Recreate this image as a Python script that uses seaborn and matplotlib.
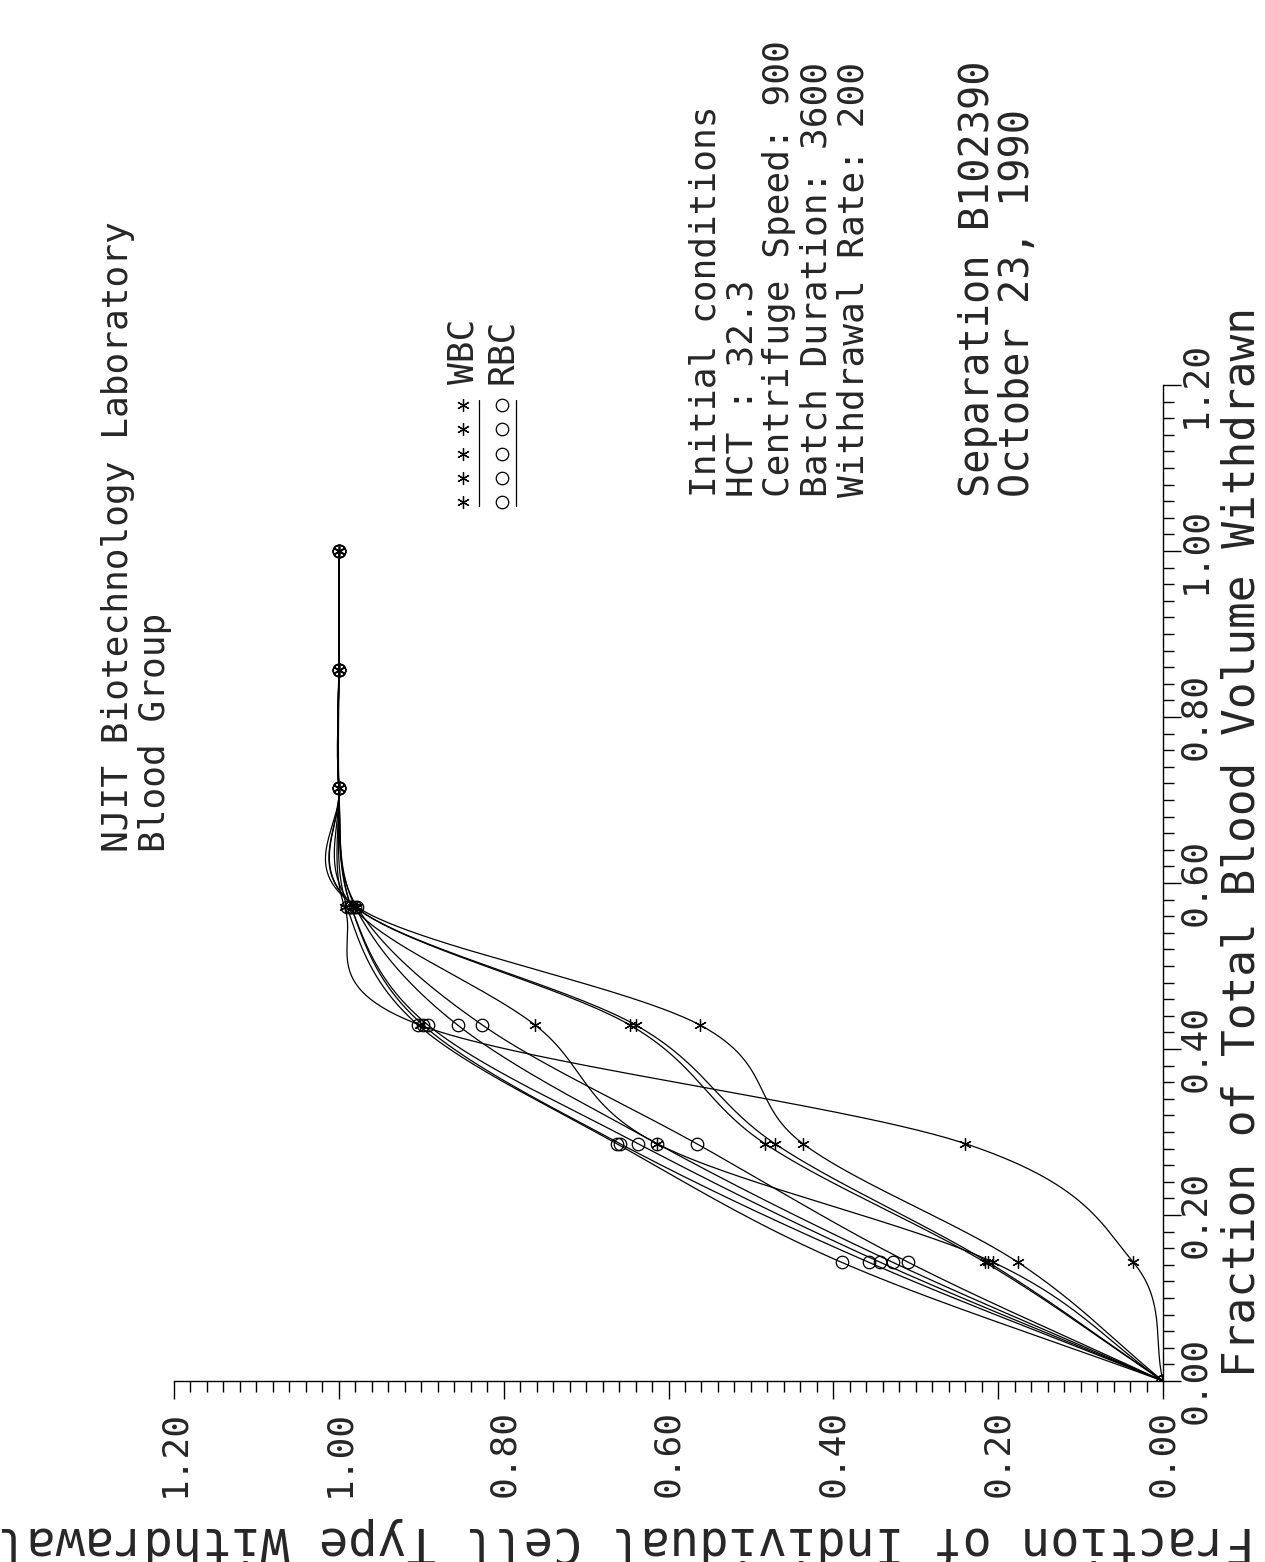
import numpy as np
import pandas as pd
import matplotlib
matplotlib.use("Agg")
import matplotlib.pyplot as plt
from matplotlib.lines import Line2D
from matplotlib.ticker import MultipleLocator, FormatStrFormatter
import seaborn as sns

sns.set_theme(style="white")
plt.rcParams['font.family'] = ['DejaVu Sans Mono', 'DejaVu Sans']

# Fraction of total blood volume withdrawn at each sampling point
volume = [0.0, 0.143, 0.286, 0.429, 0.571, 0.714, 0.857, 1.0]

# Red blood cell fractions withdrawn (five runs)
rbc_1 = [0.0, 0.390, 0.663, 0.904, 0.990, 1.0, 1.0, 1.0]
rbc_2 = [0.0, 0.357, 0.659, 0.898, 0.985, 1.0, 1.0, 1.0]
rbc_3 = [0.0, 0.343, 0.637, 0.892, 0.985, 1.0, 1.0, 1.0]
rbc_4 = [0.0, 0.328, 0.614, 0.856, 0.980, 1.0, 1.0, 1.0]
rbc_5 = [0.0, 0.309, 0.566, 0.826, 0.978, 1.0, 1.0, 1.0]

# White blood cell fractions withdrawn (five runs)
wbc_1 = [0.0, 0.216, 0.483, 0.647, 0.980, 1.0, 1.0, 1.0]
wbc_2 = [0.0, 0.212, 0.471, 0.640, 0.980, 1.0, 1.0, 1.0]
wbc_3 = [0.0, 0.176, 0.437, 0.562, 0.978, 1.0, 1.0, 1.0]
wbc_4 = [0.0, 0.036, 0.240, 0.902, 0.993, 1.0, 1.0, 1.0]
wbc_5 = [0.0, 0.206, 0.614, 0.762, 0.983, 1.0, 1.0, 1.0]

rbc_series = [rbc_1, rbc_2, rbc_3, rbc_4, rbc_5]
wbc_series = [wbc_1, wbc_2, wbc_3, wbc_4, wbc_5]

tick_values = [0.0, 0.2, 0.4, 0.6, 0.8, 1.0, 1.2]

title_lines = ["NJIT Biotechnology Laboratory", "Blood Group"]
condition_lines = ["Initial conditions", "HCT : 32.3", "Centrifuge Speed: 900",
                   "Batch Duration: 3600", "Withdrawal Rate: 200"]
run_lines = ["Separation B102390", "October 23, 1990"]
x_label = "Fraction of Individual Cell Type Withdrawal"
y_label = "Fraction of Total Blood Volume Withdrawn"


def smooth_curve(xk, yk, steps=60):
    """Catmull-Rom interpolation through evenly spaced knots."""
    xk = np.asarray(xk, float)
    yk = np.asarray(yk, float)
    n = len(xk)
    xs_all, ys_all = [], []
    for i in range(n - 1):
        p0, p1 = yk[i], yk[i + 1]
        m0 = (yk[i + 1] - yk[i - 1]) / 2 if i > 0 else (yk[1] - yk[0])
        m1 = (yk[i + 2] - yk[i]) / 2 if i + 2 < n else (yk[-1] - yk[-2])
        t = np.linspace(0, 1, steps, endpoint=(i == n - 2))
        h00 = 2 * t ** 3 - 3 * t ** 2 + 1
        h10 = t ** 3 - 2 * t ** 2 + t
        h01 = -2 * t ** 3 + 3 * t ** 2
        h11 = t ** 3 - t ** 2
        ys_all.append(h00 * p0 + h10 * m0 + h01 * p1 + h11 * m1)
        xs_all.append(xk[i] + t * (xk[i + 1] - xk[i]))
    return np.concatenate(xs_all), np.concatenate(ys_all)


# Smooth curves through each run
rows = []
for kind, group in (("RBC", rbc_series), ("WBC", wbc_series)):
    for k, vals in enumerate(group):
        v_fine, c_fine = smooth_curve(volume, vals)
        for vv, cc in zip(v_fine, c_fine):
            rows.append({"run": f"{kind}{k}", "volume": vv, "fraction": cc})
curves = pd.DataFrame(rows)

W, H = 1265, 1562
fig = plt.figure(figsize=(W / 100, H / 100), dpi=100)
fig.patch.set_facecolor("white")

left, right, top, bottom = 174, 1163, 385, 1381
ax = fig.add_axes([left / W, 1 - bottom / H, (right - left) / W, (bottom - top) / H])
ax.set_facecolor("white")

sns.lineplot(data=curves, x="fraction", y="volume", units="run", estimator=None,
             sort=False, color="black", linewidth=0.9, ax=ax, legend=False)

for vals in rbc_series:
    ax.plot(vals, volume, linestyle="none", marker="o", markersize=9,
            markerfacecolor="none", markeredgecolor="black", markeredgewidth=0.9)
for vals in wbc_series:
    ax.plot(vals, volume, linestyle="none", marker=(6, 2, 0), markersize=9,
            markeredgecolor="black", markeredgewidth=0.9, color="black")

ax.set_xlim(1.2, 0.0)
ax.set_ylim(0.0, 1.2)
ax.set_xlabel("")
ax.set_ylabel("")
for s in ("left", "top"):
    ax.spines[s].set_visible(False)
for s in ("bottom", "right"):
    ax.spines[s].set_color("black")
    ax.spines[s].set_linewidth(1.0)

ax.yaxis.tick_right()
ax.set_xticks(tick_values)
ax.set_yticks(tick_values)
ax.xaxis.set_minor_locator(MultipleLocator(0.02))
ax.yaxis.set_minor_locator(MultipleLocator(0.02))
ax.xaxis.set_major_formatter(FormatStrFormatter("%.2f"))
ax.yaxis.set_major_formatter(FormatStrFormatter("%.2f"))
ax.tick_params(axis="x", which="major", direction="out", length=13, width=1,
               color="black", labelsize=26, labelrotation=90, pad=8, bottom=True)
ax.tick_params(axis="x", which="minor", direction="out", length=8, width=1,
               color="black", bottom=True)
ax.tick_params(axis="y", which="major", direction="out", length=13, width=1,
               color="black", labelsize=26, labelrotation=90, pad=-2, right=True, left=False)
ax.tick_params(axis="y", which="minor", direction="out", length=8, width=1,
               color="black", right=True, left=False)
for lab in ax.get_yticklabels():
    lab.set_verticalalignment("center")


def fx(px):
    return px / W


def fy(py):
    return 1 - py / H


# Title block
fig.text(fx(118), fy(852), title_lines[0], rotation=90, ha="center", va="bottom", fontsize=26)
fig.text(fx(155), fy(852), title_lines[1], rotation=90, ha="center", va="bottom", fontsize=26)

# Initial conditions block
for i, line in enumerate(condition_lines):
    fig.text(fx(705 + 37 * i), fy(497), line, rotation=90, ha="center", va="bottom", fontsize=26)

# Run identification
for i, line in enumerate(run_lines):
    fig.text(fx(978 + 40 * i), fy(497), line, rotation=90, ha="center", va="bottom", fontsize=29)

# Axis titles
fig.text(fx(1242), fy(1377), y_label, rotation=90, ha="center", va="bottom", fontsize=32)
fig.text(fx(1255), fy(1541), x_label, rotation=180, ha="right", va="center", fontsize=35)

# Legend: marker rows with an underline, then the label
for i in range(5):
    yy = fy(405 + 24.3 * i)
    fig.add_artist(Line2D([fx(463)], [yy], linestyle="none", marker=(6, 2, 0), markersize=9,
                          markeredgecolor="black", markeredgewidth=0.9, color="black"))
    fig.add_artist(Line2D([fx(502)], [yy], linestyle="none", marker="o", markersize=9,
                          markerfacecolor="none", markeredgecolor="black", markeredgewidth=0.9))
fig.add_artist(Line2D([fx(479), fx(479)], [fy(400), fy(506)], color="black", linewidth=0.9))
fig.add_artist(Line2D([fx(516), fx(516)], [fy(400), fy(506)], color="black", linewidth=0.9))
fig.text(fx(464), fy(384), "WBC", rotation=90, ha="center", va="bottom", fontsize=26)
fig.text(fx(502), fy(384), "RBC", rotation=90, ha="center", va="bottom", fontsize=26)

fig.savefig("out.png", dpi=100, facecolor="white")
